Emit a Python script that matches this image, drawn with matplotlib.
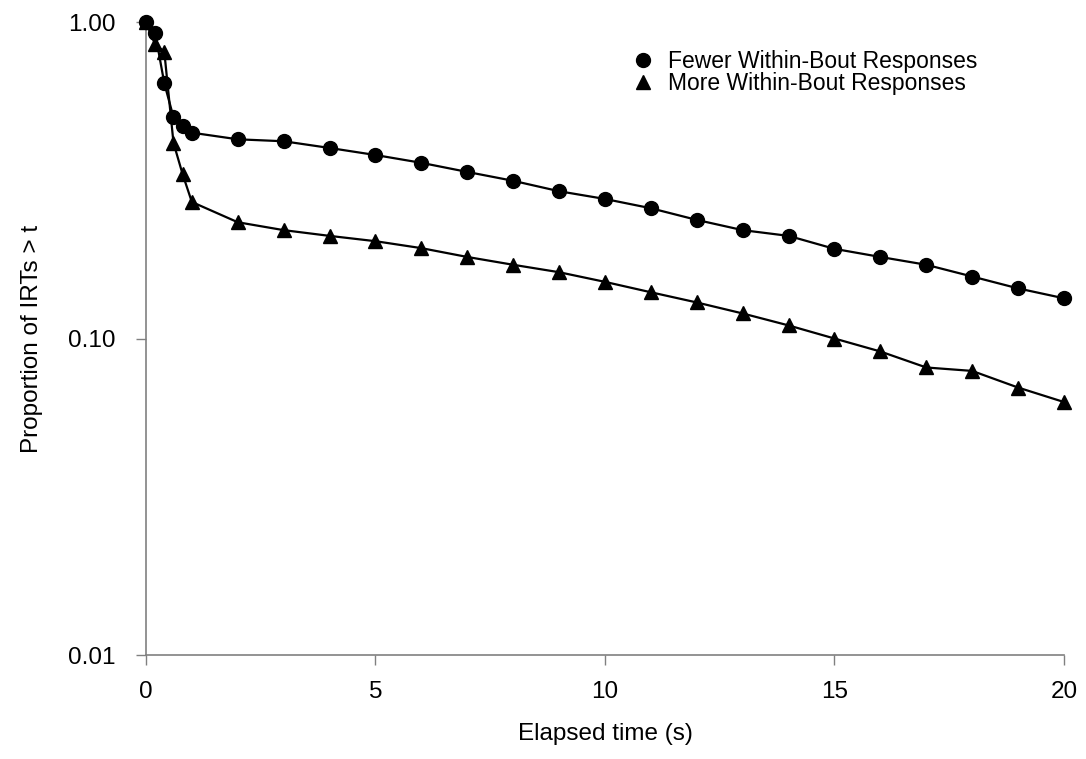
import matplotlib
matplotlib.use("Agg")
import matplotlib.pyplot as plt
from matplotlib.ticker import FixedLocator, NullLocator

plt.rcParams['font.family'] = ['Liberation Sans', 'DejaVu Sans']

# Elapsed time (s) at which survivor proportions were computed
time_s = [0, 0.2, 0.4, 0.6, 0.8, 1, 2, 3, 4, 5, 6, 7, 8, 9, 10,
          11, 12, 13, 14, 15, 16, 17, 18, 19, 20]

# Proportion of IRTs longer than t
fewer_within = [1.00, 0.925, 0.64, 0.50, 0.47, 0.447, 0.426, 0.42, 0.40, 0.38,
                0.359, 0.336, 0.315, 0.292, 0.276, 0.258, 0.237, 0.220, 0.211,
                0.192, 0.181, 0.171, 0.157, 0.144, 0.134]
more_within = [1.00, 0.85, 0.805, 0.415, 0.33, 0.27, 0.233, 0.220, 0.211, 0.203,
               0.193, 0.181, 0.171, 0.162, 0.151, 0.140, 0.130, 0.120, 0.110,
               0.100, 0.091, 0.081, 0.079, 0.070, 0.063]

series_labels = ["Fewer Within-Bout Responses", "More Within-Bout Responses"]
y_ticks = [0.01, 0.10, 1.00]
y_tick_labels = ["0.01", "0.10", "1.00"]
x_ticks = [0, 5, 10, 15, 20]

fig = plt.figure(figsize=(10.86, 7.59), dpi=100)
ax = fig.add_axes([0.1344, 0.137, 0.8453, 0.834])

ax.plot(time_s, fewer_within, color='black', lw=1.6, marker='o', ms=10,
        label=series_labels[0], clip_on=False, zorder=3)
ax.plot(time_s, more_within, color='black', lw=1.6, marker='^', ms=10,
        label=series_labels[1], clip_on=False, zorder=3)

ax.set_yscale('log')
ax.set_ylim(0.01, 1.0)
ax.set_xlim(0, 20)
ax.yaxis.set_major_locator(FixedLocator(y_ticks))
ax.yaxis.set_minor_locator(NullLocator())
ax.set_yticklabels(y_tick_labels)
ax.set_xticks(x_ticks)

for side in ('top', 'right'):
    ax.spines[side].set_visible(False)
for side in ('left', 'bottom'):
    ax.spines[side].set_color('#808080')
    ax.spines[side].set_linewidth(1.2)

ax.tick_params(axis='both', direction='out', length=7, width=1.0,
               color='#808080', labelsize=17.5)
ax.tick_params(axis='y', pad=15)
ax.tick_params(axis='x', pad=12)

ax.set_xlabel("Elapsed time (s)", fontsize=17.5, labelpad=14)
ax.set_ylabel("Proportion of IRTs > t", fontsize=17.5, labelpad=18)

leg = ax.legend(loc='upper left', bbox_to_anchor=(0.529, 0.955), frameon=False,
                fontsize=16.5, handlelength=1.0, handletextpad=0.6,
                labelspacing=-0.05, borderaxespad=0, borderpad=0)
for h in leg.legend_handles:
    h.set_linestyle('none')

fig.savefig("out.png", dpi=100)
